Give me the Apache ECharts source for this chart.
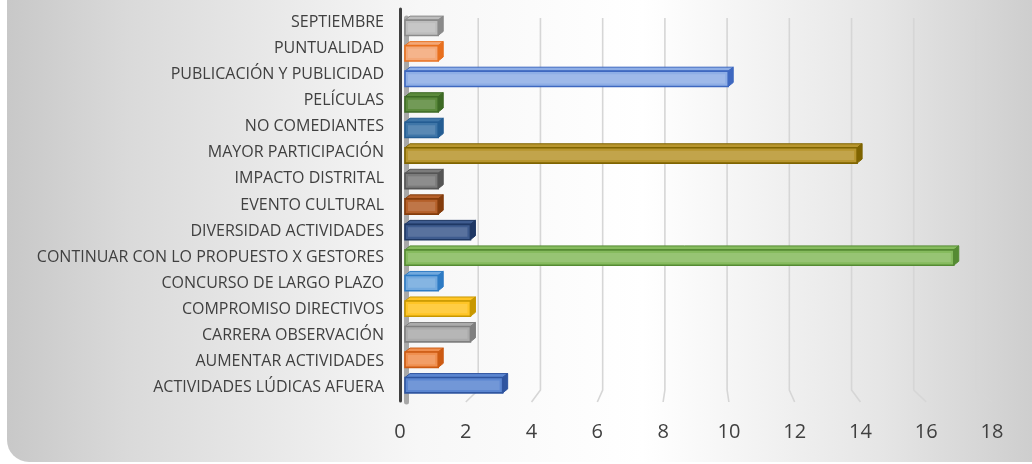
<!DOCTYPE html>
<html>
<head>
<meta charset="utf-8">
<script src="https://cdn.jsdelivr.net/npm/echarts@6/dist/echarts.min.js"></script>
<style>
  html, body { margin: 0; padding: 0; background: #ffffff; }
  #chart { width: 1032px; height: 464px; }
</style>
</head>
<body>
<div id="chart"></div>
<script>
// Categorías (de abajo hacia arriba, como en Excel)
const categorias = [
  'ACTIVIDADES LÚDICAS AFUERA',
  'AUMENTAR ACTIVIDADES',
  'CARRERA OBSERVACIÓN',
  'COMPROMISO DIRECTIVOS',
  'CONCURSO DE LARGO PLAZO',
  'CONTINUAR CON LO PROPUESTO X GESTORES',
  'DIVERSIDAD ACTIVIDADES',
  'EVENTO CULTURAL',
  'IMPACTO DISTRITAL',
  'MAYOR PARTICIPACIÓN',
  'NO COMEDIANTES',
  'PELÍCULAS',
  'PUBLICACIÓN Y PUBLICIDAD',
  'PUNTUALIDAD',
  'SEPTIEMBRE'
];
const valores = [3, 1, 2, 2, 1, 17, 2, 1, 1, 14, 1, 1, 10, 1, 1];
const ticksX = [0, 2, 4, 6, 8, 10, 12, 14, 16, 18];

// Colores de cada barra (relleno / borde)
const rellenos = ['#5b86d1', '#f08f4f', '#ababab', '#ffc526', '#72a9de', '#86bb5e', '#3e5b8e', '#b5602a',
  '#7b7b7b', '#b8962e', '#3f76a8', '#5b8a3c', '#8eaee6', '#f4a878', '#bdbdbd'];
const bordes = ['#2f55a0', '#cc5a12', '#7f7f7f', '#c89800', '#2e7bc4', '#558b33', '#1f3864', '#843c0c',
  '#555555', '#7f6400', '#245d93', '#3d6a25', '#3e68c0', '#e8701f', '#8a8a8a'];

const maxX = ticksX[ticksX.length - 1];
const pasoX = ticksX[1] - ticksX[0];

// pared del fondo y borde frontal del piso (perspectiva)
const FONDO = { left: 416, width: 560, top: 18, height: 384 };
const FRENTE = { left: 400, width: 592 };
const PROF_PISO = 12;

function valorFrente(v) {
  const px = FRENTE.left + v / maxX * FRENTE.width;
  return (px - FONDO.left) / FONDO.width * maxX;
}

function dibujarRejilla(params, api) {
  const v = api.value(0);
  const arriba = api.coord([v, FONDO.height]);
  const atras = api.coord([v, PROF_PISO]);
  const frente = api.coord([valorFrente(v), 0]);
  return {
    type: 'polyline',
    shape: { points: [arriba, atras, frente] },
    style: { stroke: '#d6d6d6', lineWidth: 1.6, fill: null }
  };
}

function dibujarBarra(params, api) {
  const i = api.value(1);
  const fin = api.coord([api.value(0), i]);
  const ini = api.coord([0, i]);
  const h = api.size([0, 1])[1] * 0.6;
  const x0 = ini[0] - 3;
  const x1 = fin[0] - 2;
  const y0 = fin[1] - h / 2 + 1;
  const y1 = y0 + h;
  const d = 5, e = 4;
  const relleno = rellenos[i];
  const borde = bordes[i];
  return {
    type: 'group',
    children: [
      { type: 'polygon', shape: { points: [[x0, y0], [x0 + d, y0 - e], [x1 + d, y0 - e], [x1, y0]] },
        style: { fill: relleno, stroke: borde, lineWidth: 1 } },
      { type: 'polygon', shape: { points: [[x1, y0], [x1 + d, y0 - e], [x1 + d, y1 - e], [x1, y1]] },
        style: { fill: borde, stroke: borde, lineWidth: 1 } },
      { type: 'rect', shape: { x: x0, y: y0, width: x1 - x0, height: h },
        style: { fill: relleno, stroke: borde, lineWidth: 1.6 } },
      { type: 'rect', shape: { x: x0 + 3, y: y0 + 3, width: Math.max(0, x1 - x0 - 6), height: h - 6 },
        style: { fill: 'rgba(255,255,255,0.14)' } }
    ]
  };
}

const myChart = echarts.init(document.getElementById('chart'));

const option = {
  animation: false,
  graphic: [{
    type: 'rect',
    z: -10,
    shape: { x: 7, y: -30, width: 1060, height: 492, r: 22 },
    style: {
      fill: new echarts.graphic.LinearGradient(7, 0, 1032, 0, [
        { offset: 0, color: '#c8c8c8' },
        { offset: 0.12, color: '#dadada' },
        { offset: 0.4, color: '#f7f7f7' },
        { offset: 0.62, color: '#ffffff' },
        { offset: 0.85, color: '#e6e6e6' },
        { offset: 1, color: '#cecece' }
      ], true)
    }
  }],
  grid: [
    { left: FONDO.left, width: FONDO.width, top: FONDO.top, height: FONDO.height },
    { left: 408, width: 580, top: 14, height: 383 },
    { left: FRENTE.left, width: FRENTE.width, top: 9, height: 392 },
    { left: FRENTE.left, width: FRENTE.width, top: 14, height: 383 }
  ],
  xAxis: [
    { gridIndex: 0, type: 'value', min: 0, max: maxX, show: false },
    { gridIndex: 1, type: 'value', min: 0, max: maxX, show: false },
    { gridIndex: 2, type: 'value', min: 0, max: maxX, show: false },
    {
      gridIndex: 3, type: 'value', min: 0, max: maxX, interval: pasoX,
      axisLine: { show: false }, axisTick: { show: false }, splitLine: { show: false },
      axisLabel: { margin: 25, fontSize: 20, color: '#404040', fontFamily: '"Open Sans", sans-serif' }
    }
  ],
  yAxis: [
    {
      gridIndex: 0, type: 'value', min: 0, max: FONDO.height, offset: 10,
      axisLine: { show: true, onZero: false, lineStyle: { color: '#a8a8a8', width: 5 } },
      axisLabel: { show: false }, axisTick: { show: false }, splitLine: { show: false }
    },
    { gridIndex: 1, type: 'category', data: categorias, show: false },
    {
      gridIndex: 2, type: 'category', data: categorias,
      axisLine: { show: true, onZero: false, lineStyle: { color: '#404040', width: 3 } },
      axisTick: { show: false },
      axisLabel: { margin: 16, fontSize: 16, color: '#404040', fontFamily: '"Open Sans", sans-serif' }
    },
    { gridIndex: 3, type: 'value', show: false }
  ],
  series: [
    {
      type: 'custom',
      xAxisIndex: 0,
      yAxisIndex: 0,
      renderItem: dibujarRejilla,
      data: ticksX.slice(1).map(v => [v, 0]),
      silent: true,
      z: 1
    },
    {
      type: 'custom',
      xAxisIndex: 1,
      yAxisIndex: 1,
      renderItem: dibujarBarra,
      encode: { x: 0, y: 1 },
      data: valores.map((v, i) => [v, i]),
      z: 3
    }
  ]
};

myChart.setOption(option);
</script>
</body>
</html>
